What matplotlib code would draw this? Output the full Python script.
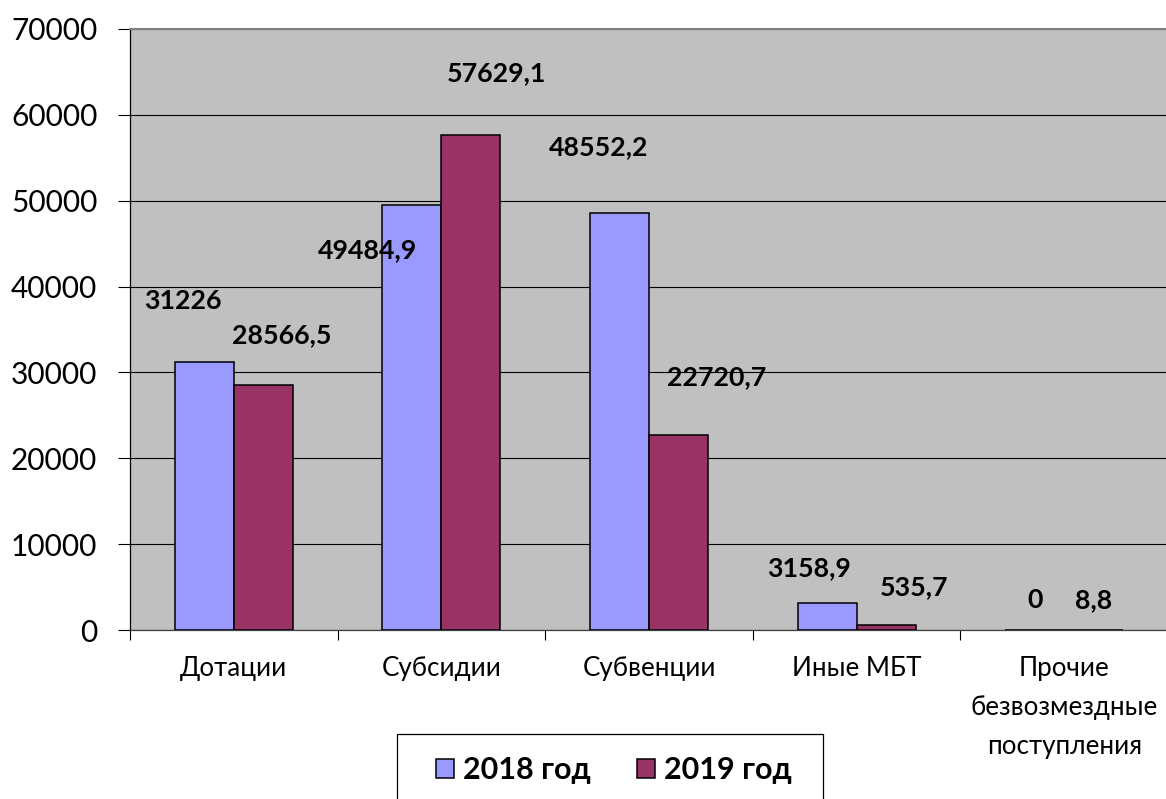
import numpy as np
import matplotlib
matplotlib.use("Agg")
import matplotlib.pyplot as plt
from matplotlib.patches import Rectangle

plt.rcParams["font.family"] = ["Lato", "DejaVu Sans"]

# ============================================================
# DATA
# ============================================================

categories = ["Дотации", "Субсидии", "Субвенции", "Иные МБТ",
              "Прочие\nбезвозмездные\nпоступления"]
series_names = ["2018 год", "2019 год"]
values_2018 = [31226, 49484.9, 48552.2, 3158.9, 0]
values_2019 = [28566.5, 57629.1, 22720.7, 535.7, 8.8]
labels_2018 = ["31226", "49484,9", "48552,2", "3158,9", "0"]
labels_2019 = ["28566,5", "57629,1", "22720,7", "535,7", "8,8"]
yticks = [0, 10000, 20000, 30000, 40000, 50000, 60000, 70000]

# label offsets from bar top centre (pixels), as in the original layout
offsets_2018 = [(-21, 61), (-44, -45), (-21, 66), (-18, 35), (0, 30)]
offsets_2019 = [(18, 50), (26, 62), (38, 58), (28, 38), (0, 30)]

COLOR_2018 = "#9999FF"
COLOR_2019 = "#993366"

# ============================================================
# FIGURE
# ============================================================

fig = plt.figure(figsize=(11.66, 7.99), dpi=100)
ax = fig.add_axes([130 / 1166, 1 - 630 / 799, 1038 / 1166, 601 / 799])
ax.set_facecolor("#C0C0C0")

x = np.arange(len(categories))
w = 0.284

b1 = ax.bar(x - w / 2, values_2018, width=w, color=COLOR_2018,
            edgecolor="black", linewidth=1.1, label=series_names[0], zorder=3)
b2 = ax.bar(x + w / 2, values_2019, width=w, color=COLOR_2019,
            edgecolor="black", linewidth=1.1, label=series_names[1], zorder=3)

for bars, labels, offs in [(b1, labels_2018, offsets_2018),
                           (b2, labels_2019, offsets_2019)]:
    for rect, lab, (dx, dy) in zip(bars, labels, offs):
        ax.annotate(lab,
                    (rect.get_x() + rect.get_width() / 2, rect.get_height()),
                    xytext=(dx, dy), textcoords="offset pixels",
                    ha="center", va="center", fontsize=19.3,
                    fontweight="bold", zorder=5)

ax.set_xlim(-0.5, len(categories) - 0.5)
ax.set_ylim(0, 70000)
ax.set_yticks(yticks)
ax.set_yticklabels([str(v) for v in yticks])
ax.yaxis.grid(True, color="black", linewidth=0.8, zorder=1)
ax.set_axisbelow(True)

ax.set_xticks(x)
ax.set_xticklabels(categories, fontsize=18.7, linespacing=1.68, va="top")
ax.set_xticks(np.arange(len(categories) + 1) - 0.5, minor=True)
ax.tick_params(axis="x", which="major", length=0, pad=19)
ax.tick_params(axis="x", which="minor", length=7, width=0.8, direction="out")
ax.tick_params(axis="y", length=8.5, width=0.8, pad=15, labelsize=21.5)

ax.spines["left"].set_color("black")
ax.spines["left"].set_linewidth(0.9)
ax.spines["bottom"].set_color("#404040")
ax.spines["bottom"].set_linewidth(0.9)
ax.spines["top"].set_color("#808080")
ax.spines["top"].set_linewidth(1.5)
ax.spines["right"].set_visible(False)

# legend box running off the bottom edge
fig.patches.append(Rectangle((397 / 1166, -0.05), 426 / 1166, 0.05 + (799 - 734) / 799,
                             transform=fig.transFigure, facecolor="white",
                             edgecolor="black", linewidth=0.9))
leg = fig.legend(handles=[b1, b2], loc="center", bbox_to_anchor=(614 / 1166, 1 - 770 / 799),
                 ncol=2, frameon=False, prop={"size": 22, "weight": "bold"},
                 handlelength=0.6, handleheight=0.6, handletextpad=0.3,
                 columnspacing=1.5)

fig.savefig("out.png", dpi=100)
